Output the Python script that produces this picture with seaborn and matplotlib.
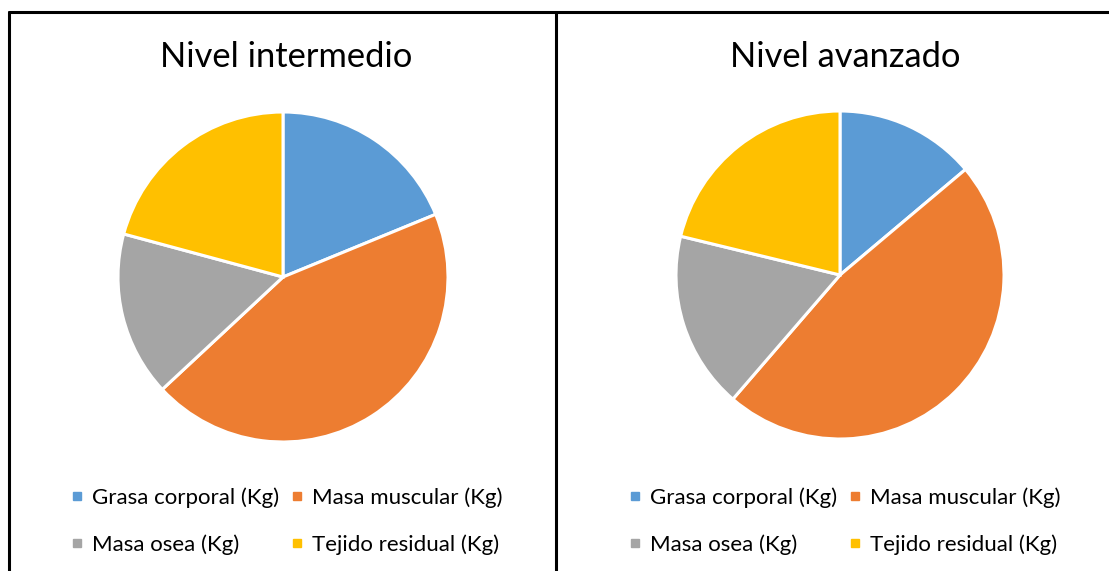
import matplotlib
matplotlib.use("Agg")
import matplotlib.pyplot as plt
import seaborn as sns
from matplotlib.lines import Line2D

sns.set_theme(style="white")
plt.rcParams['font.family'] = ['Lato', 'DejaVu Sans']

categories = ["Grasa corporal (Kg)", "Masa muscular (Kg)", "Masa osea (Kg)", "Tejido residual (Kg)"]
intermedio = [14.1, 33.2, 12.1, 15.6]
avanzado = [10.4, 35.6, 13.1, 15.9]
titles = ["Nivel intermedio", "Nivel avanzado"]
colors = sns.color_palette(["#5B9BD5", "#ED7D31", "#A5A5A5", "#FFC000"])

W, H = 1109, 571
fig = plt.figure(figsize=(W / 100, H / 100), dpi=100)

def add_pie(values, cx, cy, r, title, tx, lx):
    half = 170
    ax = fig.add_axes([(cx - half) / W, (H - cy - half) / H, 2 * half / W, 2 * half / H])
    wedges, _ = ax.pie(values, colors=colors, startangle=90, counterclock=False,
                       radius=1.0, wedgeprops=dict(edgecolor="white", linewidth=2.2))
    lim = half / r
    ax.set_xlim(-lim, lim)
    ax.set_ylim(-lim, lim)
    ax.set_aspect("equal")
    ax.axis("off")
    fig.text(tx / W, 1 - 57 / H, title, ha="center", va="center", fontsize=24.8, color="#000000")
    handles = [Line2D([], [], marker="s", linestyle="none", markersize=5.2,
                      markerfacecolor=colors[i], markeredgecolor=colors[i]) for i in range(4)]
    order = [0, 2, 1, 3]
    fig.legend([handles[i] for i in order], [categories[i] for i in order],
               ncol=2, loc="upper left", bbox_to_anchor=(lx / W, 1 - 487 / H),
               frameon=False, fontsize=16, handlelength=0.45, handletextpad=0.45,
               columnspacing=0.6, labelspacing=1.2, borderaxespad=0, borderpad=0,
               labelcolor="#000000")

add_pie(intermedio, 283, 277, 165, titles[0], 286, 72)
add_pie(avanzado, 840, 275, 164, titles[1], 845, 630)

lw = 2.2
fig.add_artist(Line2D([9 / W, 1], [1 - 12 / H, 1 - 12 / H], color="black", linewidth=lw, transform=fig.transFigure))
fig.add_artist(Line2D([9 / W, 9 / W], [0, 1 - 12 / H], color="black", linewidth=lw, transform=fig.transFigure))
fig.add_artist(Line2D([556 / W, 556 / W], [0, 1 - 12 / H], color="black", linewidth=lw, transform=fig.transFigure))

fig.savefig("out.png", dpi=100, facecolor="white")
